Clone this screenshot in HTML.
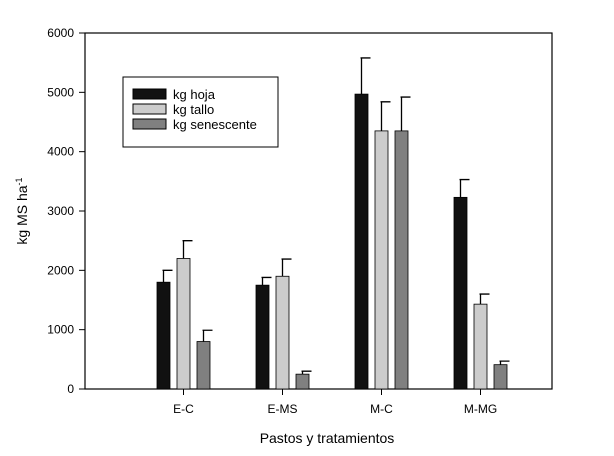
<!DOCTYPE html>
<html><head><meta charset="utf-8"><style>body{margin:0;background:#fff}svg{font-family:"Liberation Sans",Arial,sans-serif}</style></head>
<body>
<svg id="c" width="614" height="451">
<rect x="85" y="33" width="467" height="356" fill="none" stroke="#000" stroke-width="1.2"/>
<g id="g"></g>
<text x="327" y="443" text-anchor="middle" font-size="14">Pastos y tratamientos</text>
<text transform="translate(27,211) rotate(-90)" text-anchor="middle" font-size="14">kg MS ha<tspan dy="-5" font-size="9">-1</tspan></text>
<g>
<rect x="123" y="77" width="155" height="70" fill="#fff" stroke="#000"/>
<rect x="133" y="89" width="33" height="10" fill="#111" stroke="#000"/><text x="173" y="99" font-size="13">kg hoja</text>
<rect x="133" y="104" width="33" height="10" fill="#ccc" stroke="#000"/><text x="173" y="114" font-size="13">kg tallo</text>
<rect x="133" y="119" width="33" height="10" fill="#808080" stroke="#000"/><text x="173" y="129" font-size="13">kg senescente</text>
</g>
</svg>
<script>
const categories=["E-C","E-MS","M-C","M-MG"];
const hoja=[1800,1750,4970,3230];
const tallo=[2200,1900,4350,1430];
const senescente=[800,250,4350,410];
const hojaErr=[200,130,610,300];
const talloErr=[300,290,490,170];
const senErr=[190,50,570,60];
const yTicks=[0,1000,2000,3000,4000,5000,6000];
const ns="http://www.w3.org/2000/svg",g=document.getElementById("g");
const y=v=>389-v/6000*356;
const xc=i=>183.5+i*99;
function mk(t,a,p){const e=document.createElementNS(ns,t);for(const k in a)e.setAttribute(k,a[k]);(p||g).appendChild(e);return e;}
yTicks.forEach(v=>{const l=mk("line",{x1:79,x2:85,y1:y(v),y2:y(v),stroke:"#000"});


const t=mk("text",{x:74,y:y(v)+4,"text-anchor":"end","font-size":12});t.textContent=v;

});
const series=[[hoja,hojaErr,"#111","hoja",-20],[tallo,talloErr,"#ccc","tallo",0],[senescente,senErr,"#808080","senescente",20]];
categories.forEach((c,i)=>{
const tk=mk("line",{x1:xc(i),x2:xc(i),y1:389,y2:395,stroke:"#000"});


const t=mk("text",{x:xc(i),y:413,"text-anchor":"middle","font-size":12});t.textContent=c;


series.forEach(s=>{const v=s[0][i],e=s[1][i],cx=xc(i)+s[4];
const eb=mk("path",{d:`M${cx} ${y(v)}V${y(v+e)}M${cx-1} ${y(v+e)}H${cx+9}`,stroke:"#000","stroke-width":1.3,fill:"none"});


const r=mk("rect",{x:cx-6.5,y:y(v),width:13,height:389-y(v),fill:s[2],stroke:"#000","stroke-width":0.8});

});
});
</script>
</body></html>
